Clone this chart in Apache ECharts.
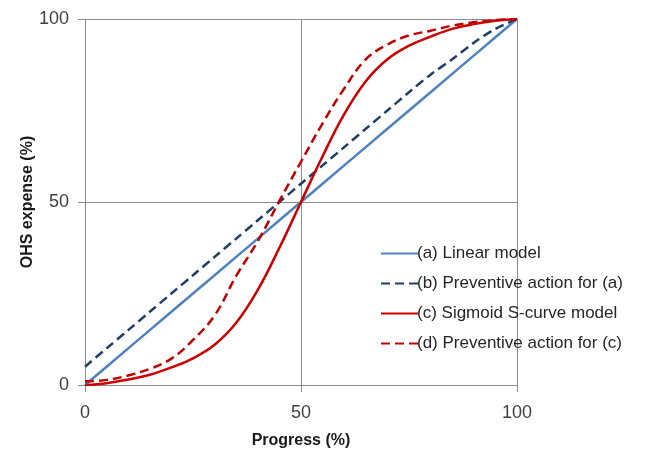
<!DOCTYPE html>
<html>
<head>
<meta charset="utf-8">
<script src="https://cdn.jsdelivr.net/npm/echarts@6/dist/echarts.min.js"></script>
<style>html,body{margin:0;padding:0;background:#fff}#c{width:651px;height:449px}</style>
</head>
<body>
<div id="c"></div>
<script>
var progress = [0,5,10,15,20,25,30,35,40,45,50,55,60,65,70,75,80,85,90,95,100];
var linearModel = [0,5,10,15,20,25,30,35,40,45,50,55,60,65,70,75,80,85,90,95,100];
var preventiveA = [5,10,15,20,25,30,35,40,45,50,55,60,65,70,75,80,84.8,89,93.5,97.3,100];
var sigmoidModel = [0,0.5,1.5,2.8,4.8,7.3,11,17,26,37.5,50,62.5,74,83,89,92.7,95.2,97.3,98.6,99.5,100];
var preventiveC = [1,1.4,2.6,4.4,7.2,12.3,19,29.8,39.3,50.3,61,71.5,81,89,93,95.5,96.8,98.2,99.1,99.7,100];
var xTicks = [0,50,100];
var yTicks = [0,50,100];
var seriesNames = ['(a) Linear model','(b) Preventive action for (a)','(c) Sigmoid S-curve model','(d) Preventive action for (c)'];

function pairs(ys){ return progress.map(function(x,i){ return [x, ys[i]]; }); }

var chart = echarts.init(document.getElementById('c'), null, {renderer:'canvas'});
var FONT = 'Liberation Sans';
var gridColor = '#8c8c8c';
var axisCommon = {
  type:'value', min:0, max:100, interval:50,
  axisLine:{show:true, lineStyle:{color:gridColor, width:1}},
  axisTick:{show:true, length:7, lineStyle:{color:gridColor}},
  splitLine:{show:true, lineStyle:{color:gridColor, width:1}},
  axisLabel:{color:'#404040', fontFamily:FONT, fontSize:18},
  nameLocation:'middle',
  nameMoveOverlap:false,
  nameTextStyle:{color:'#1a1a1a', fontFamily:FONT, fontSize:16, fontWeight:'bold'}
};
chart.setOption({
  animation:false,
  backgroundColor:'#ffffff',
  grid:{left:85, right:134, top:19, bottom:64, containLabel:false, outerBoundsMode:'none'},
  xAxis: Object.assign({}, axisCommon, {name:'Progress (%)', nameGap:48,
    axisLabel:Object.assign({}, axisCommon.axisLabel, {margin:19,
      formatter:function(v){ return xTicks.indexOf(v) >= 0 ? String(v) : ''; }})}),
  yAxis: Object.assign({}, axisCommon, {name:'OHS expense (%)', nameGap:49,
    axisLabel:Object.assign({}, axisCommon.axisLabel, {margin:16,
      formatter:function(v){ return yTicks.indexOf(v) >= 0 ? String(v) : ''; }})}),
  legend:{
    orient:'vertical', left:375, top:240,
    itemWidth:37, itemHeight:14, itemGap:13,
    itemStyle:{opacity:0},
    textStyle:{color:'#262626', fontFamily:FONT, fontSize:17, padding:[0,0,0,-6]},
    data:seriesNames
  },
  series:[
    {name:seriesNames[0], type:'line', data:pairs(linearModel), symbol:'none', smooth:false,
      lineStyle:{color:'#4f81bd', width:2.5}, itemStyle:{color:'#4f81bd'}, z:2},
    {name:seriesNames[1], type:'line', data:pairs(preventiveA), symbol:'none', smooth:0.3,
      lineStyle:{color:'#1f3f66', width:2.5, type:[9,5]}, itemStyle:{color:'#1f3f66'}, z:3},
    {name:seriesNames[2], type:'line', data:pairs(sigmoidModel), symbol:'none', smooth:0.4,
      lineStyle:{color:'#cc0000', width:2.5}, itemStyle:{color:'#cc0000'}, z:4},
    {name:seriesNames[3], type:'line', data:pairs(preventiveC), symbol:'none', smooth:0.4,
      lineStyle:{color:'#c00000', width:2.5, type:[9,5]}, itemStyle:{color:'#c00000'}, z:5}
  ]
});
</script>
</body>
</html>
